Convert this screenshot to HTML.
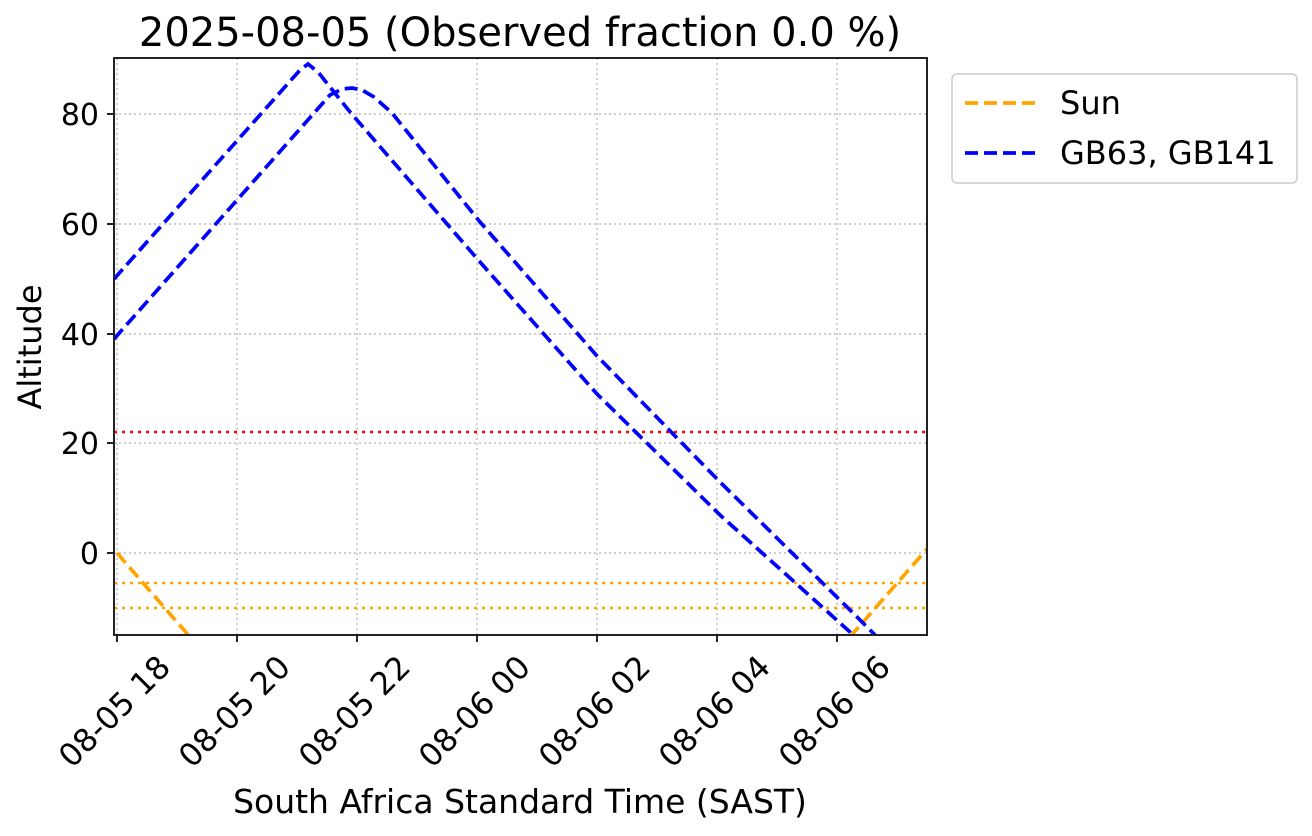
<!DOCTYPE html>
<html><head><style>body{margin:0;background:#fff}svg{display:block}text{font-family:"DejaVu Sans","Liberation Sans",sans-serif;fill:#000}</style></head><body>
<svg width="1312" height="836" xmlns="http://www.w3.org/2000/svg">
<defs><clipPath id="c"><rect x="114" y="58" width="813" height="577"/></clipPath></defs>
<text x="520" y="46" font-size="40" text-anchor="middle">2025-08-05 (Observed fraction 0.0 %)</text>
<g stroke="#b0b0b0" stroke-width="1.2" stroke-dasharray="2,3">
<line x1="117" y1="58" x2="117" y2="635"/><line x1="237" y1="58" x2="237" y2="635"/><line x1="357" y1="58" x2="357" y2="635"/><line x1="477" y1="58" x2="477" y2="635"/><line x1="597" y1="58" x2="597" y2="635"/><line x1="717" y1="58" x2="717" y2="635"/><line x1="837" y1="58" x2="837" y2="635"/>
<line x1="114" y1="553" x2="927" y2="553"/><line x1="114" y1="443" x2="927" y2="443"/><line x1="114" y1="334" x2="927" y2="334"/><line x1="114" y1="224" x2="927" y2="224"/><line x1="114" y1="114" x2="927" y2="114"/>
</g>
<g clip-path="url(#c)" fill="none">
<line x1="114" y1="432" x2="927" y2="432" stroke="red" stroke-width="2.5" stroke-dasharray="3,5"/>
<line x1="114" y1="583" x2="927" y2="583" stroke="orange" stroke-width="2.5" stroke-dasharray="3,5"/>
<line x1="114" y1="608" x2="927" y2="608" stroke="orange" stroke-width="2.5" stroke-dasharray="3,5"/>
<g stroke-width="3.7" stroke-dasharray="13,6">
<polyline stroke="orange" points="117,553 190,637"/>
<polyline stroke="orange" points="850,637 927,549"/>
<polyline stroke="blue" points="114,279 300,70 308,64 318,72 350,112 480,262 597,394 720,515 850,632 856,640"/>
<polyline stroke="blue" points="114,339 330,95 342,89 352,88 362,90 374,97 392,113 480,222 597,356 720,482 850,610 880,640"/>
</g></g>
<rect x="114" y="58" width="813" height="577" fill="none" stroke="#222" stroke-width="2"/>
<g stroke="#222" stroke-width="2">
<line x1="117" y1="635" x2="117" y2="642"/><line x1="237" y1="635" x2="237" y2="642"/><line x1="357" y1="635" x2="357" y2="642"/><line x1="477" y1="635" x2="477" y2="642"/><line x1="597" y1="635" x2="597" y2="642"/><line x1="717" y1="635" x2="717" y2="642"/><line x1="837" y1="635" x2="837" y2="642"/>
<line x1="107" y1="553" x2="114" y2="553"/><line x1="107" y1="443" x2="114" y2="443"/><line x1="107" y1="334" x2="114" y2="334"/><line x1="107" y1="224" x2="114" y2="224"/><line x1="107" y1="114" x2="114" y2="114"/>
</g>
<g font-size="30" text-anchor="end">
<text x="99" y="564">0</text><text x="99" y="454">20</text><text x="99" y="345">40</text><text x="99" y="235">60</text><text x="99" y="125">80</text>
</g>
<g font-size="31.5" text-anchor="middle" dominant-baseline="central">
<text transform="translate(115,712) rotate(-45)">08-05 18</text>
<text transform="translate(235,712) rotate(-45)">08-05 20</text>
<text transform="translate(355,712) rotate(-45)">08-05 22</text>
<text transform="translate(475,712) rotate(-45)">08-06 00</text>
<text transform="translate(595,712) rotate(-45)">08-06 02</text>
<text transform="translate(715,712) rotate(-45)">08-06 04</text>
<text transform="translate(835,712) rotate(-45)">08-06 06</text>
</g>
<text x="520" y="813" font-size="33" text-anchor="middle">South Africa Standard Time (SAST)</text>
<text transform="translate(41,347) rotate(-90)" font-size="32" text-anchor="middle">Altitude</text>
<rect x="952" y="74" width="345" height="109" rx="5" fill="#fff" stroke="#ccc" stroke-width="1.5"/>
<line x1="965" y1="103" x2="1040" y2="103" stroke="orange" stroke-width="3.7" stroke-dasharray="13,6"/>
<line x1="965" y1="153" x2="1040" y2="153" stroke="blue" stroke-width="3.7" stroke-dasharray="13,6"/>
<text x="1060" y="114" font-size="32">Sun</text>
<text x="1060" y="164" font-size="32">GB63, GB141</text>
</svg>
</body></html>
